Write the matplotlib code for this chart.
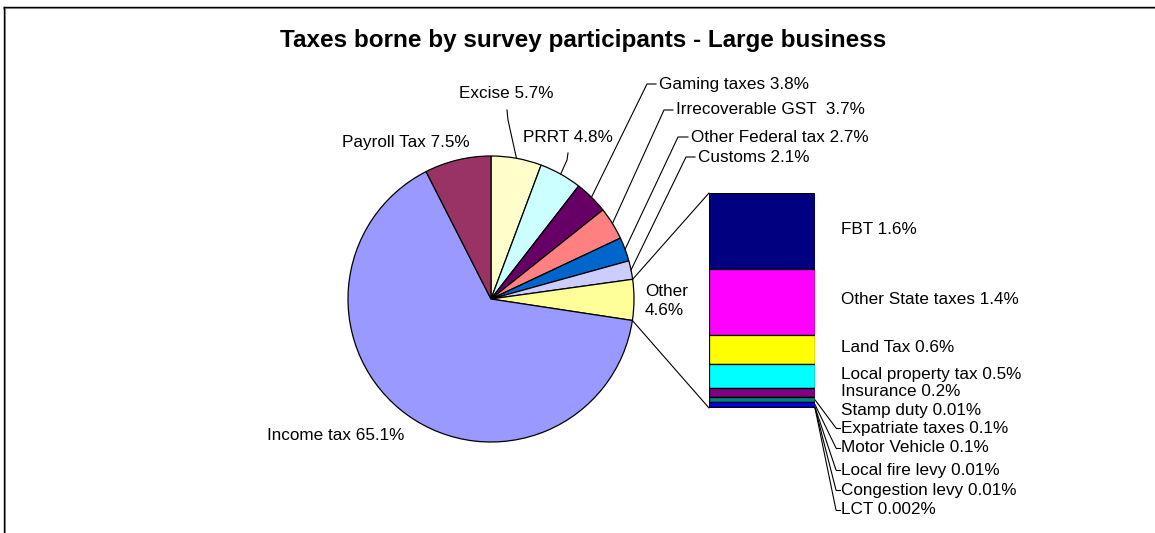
import matplotlib
matplotlib.use("Agg")
import matplotlib.pyplot as plt
import numpy as np
from matplotlib.lines import Line2D
from matplotlib.patches import ConnectionPatch

plt.rcParams["font.family"] = ["Liberation Sans", "DejaVu Sans"]

W, H = 1155, 533

# pie slices, clockwise from 12 o'clock
pie_labels = ["Excise", "PRRT", "Gaming taxes", "Irrecoverable GST ", "Other Federal tax",
              "Customs", "Other", "Income tax", "Payroll Tax"]
pie_values = [5.7, 4.8, 3.8, 3.7, 2.7, 2.1, 4.6, 65.1, 7.5]
pie_colors = ["#FFFFCC", "#CCFFFF", "#660066", "#FF8080", "#0066CC",
              "#CCCCFF", "#FFFF99", "#9999FF", "#993366"]

# breakdown of "Other", top of the bar first
bar_labels = ["FBT", "Other State taxes", "Land Tax", "Local property tax", "Insurance",
              "Stamp duty", "Expatriate taxes", "Motor Vehicle", "Local fire levy",
              "Congestion levy", "LCT"]
bar_values = [1.6, 1.4, 0.6, 0.5, 0.2, 0.01, 0.1, 0.1, 0.01, 0.01, 0.002]
bar_colors = ["#000080", "#FF00FF", "#FFFF00", "#00FFFF", "#800080", "#800000",
              "#008080", "#0000FF", "#00CCFF", "#CCFFFF", "#CCFFCC"]


def fy(py):
    # pixel row (from top) -> data y (from bottom)
    return H - py


def fmt(v):
    return f"{v:g}%"


fig = plt.figure(figsize=(W / 100, H / 100), dpi=100)
ax = fig.add_axes([0, 0, 1, 1])

cx, cy, r = 491, fy(299), 143
wedges, _ = ax.pie(pie_values, colors=pie_colors, startangle=90, counterclock=False,
                   center=(cx, cy), radius=r,
                   wedgeprops=dict(edgecolor="black", linewidth=0.9))
ax.set_xlim(0, W)
ax.set_ylim(0, H)
ax.set_aspect("equal")
ax.axis("off")

# mid angle of each slice, degrees
cum = np.cumsum([0] + pie_values)
mid_deg = 90 - 3.6 * (cum[:-1] + cum[1:]) / 2
edge_deg = 90 - 3.6 * cum


def on_rim(deg):
    a = np.radians(deg)
    return cx + r * np.cos(a), cy + r * np.sin(a)


fs = 12.3
# labels sitting next to the pie
plain = {"Payroll Tax": (406, 142), "Income tax": (336, 436)}
for name, (px, py) in plain.items():
    i = pie_labels.index(name)
    ax.text(px, fy(py), f"{name} {fmt(pie_values[i])}", ha="center", va="center", fontsize=fs)

# labels above the pie with a short bent leader
near = {"Excise": ((506, 94), (507, 110), (508, 120)),
        "PRRT": ((568, 138), (568, 153), (567, 160))}
for name, ((px, py), (ax1, ay1), (ax2, ay2)) in near.items():
    i = pie_labels.index(name)
    ax.text(px, fy(py), f"{name} {fmt(pie_values[i])}", ha="center", va="center", fontsize=fs)
    ex, ey = on_rim(mid_deg[i])
    ax.plot([ax1, ax2, ex], [fy(ay1), fy(ay2), ey], color="black", lw=0.8)

# labels to the upper right, leader with a horizontal tick
far = {"Gaming taxes": (659, 84, 647),
       "Irrecoverable GST ": (676, 110, 664),
       "Other Federal tax": (691, 137, 678),
       "Customs": (698, 157, 686)}
for name, (px, py, tx) in far.items():
    i = pie_labels.index(name)
    ax.text(px, fy(py), f"{name} {fmt(pie_values[i])}", ha="left", va="center", fontsize=fs)
    ex, ey = on_rim(mid_deg[i])
    ax.plot([px - 3, tx, ex], [fy(py), fy(py), ey], color="black", lw=0.8)

i_other = pie_labels.index("Other")
ax.text(645, fy(301), f"Other\n{fmt(pie_values[i_other])}", ha="left", va="center",
        fontsize=fs, linespacing=1.3)

# stacked bar for the "Other" breakdown
bx0, bx1, by0, by1 = 709, 815, 193, 408
bx = fig.add_axes([bx0 / W, fy(by1) / H, (bx1 - bx0) / W, (by1 - by0) / H])
total = sum(bar_values)
tops = total - np.cumsum([0] + bar_values[:-1])
bottoms = tops - np.array(bar_values)
bx.bar(0, bar_values, bottom=bottoms, width=1, color=bar_colors,
       edgecolor="black", linewidth=0.9)
bx.set_xlim(-0.5, 0.5)
bx.set_ylim(0, total)
bx.axis("off")

# lines joining the "Other" slice to the bar
for deg, yb in [(edge_deg[i_other], total), (edge_deg[i_other + 1], 0)]:
    con = ConnectionPatch(xyA=on_rim(deg), coordsA=ax.transData,
                          xyB=(-0.5, yb), coordsB=bx.transData, color="black", lw=0.8)
    fig.add_artist(con)

label_rows = [229, 300, 348, 375, 392, 410, 428, 448, 470, 490, 510]
leadered = {"Expatriate taxes", "Motor Vehicle", "Local fire levy", "Congestion levy", "LCT"}
for name, v, b, py in zip(bar_labels, bar_values, bottoms, label_rows):
    ax.text(841, fy(py), f"{name} {fmt(v)}", ha="left", va="center", fontsize=fs)
    if name in leadered:
        con = ConnectionPatch(xyA=(0.5, b + v / 2), coordsA=bx.transData,
                              xyB=(836, fy(py)), coordsB=ax.transData, color="black", lw=0.8)
        fig.add_artist(con)
        ax.plot([836, 840], [fy(py), fy(py)], color="black", lw=0.8)

ax.text(583, fy(47), "Taxes borne by survey participants - Large business",
        ha="center", va="baseline", fontsize=17.5, fontweight="bold")

# chart-area frame (top and left edges)
fig.add_artist(Line2D([4 / W, 1], [1 - 8 / H, 1 - 8 / H], transform=fig.transFigure,
                      color="#999999", lw=1.5))
fig.add_artist(Line2D([5 / W, 5 / W], [0, 1 - 8 / H], transform=fig.transFigure,
                      color="#999999", lw=1.5))
fig.add_artist(Line2D([4 / W, 1], [1 - 7 / H, 1 - 7 / H], transform=fig.transFigure,
                      color="black", lw=1.0))
fig.add_artist(Line2D([4 / W, 4 / W], [0, 1 - 7 / H], transform=fig.transFigure,
                      color="black", lw=1.0))

fig.savefig("out.png", dpi=100)
